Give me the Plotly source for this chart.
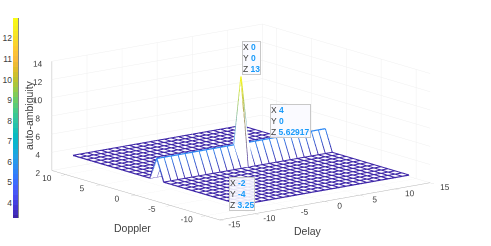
import plotly.graph_objects as go

delay = list(range(-12, 13))
doppler = list(range(-12, 13))
floor_level = 3.25
ridge_level = 5.62917
peak_level = 13
delay_ticks = [-15, -10, -5, 0, 5, 10, 15]
delay_labels = ["-15", "-10", "-5", "0", "5", "10", "15"]
doppler_ticks = [-10, -5, 0, 5, 10]
doppler_labels = ["-10", "-5", "0", "5", "10"]
height_ticks = [2, 4, 6, 8, 10, 12, 14]
colorbar_ticks = [4, 5, 6, 7, 8, 9, 10, 11, 12]
colorbar_levels = [3.25, 3.5, 3.75, 4, 4.25, 4.5, 4.75, 5, 5.25, 5.5, 5.75, 6, 6.25, 6.5, 6.75, 7, 7.25, 7.5, 7.75,
                   8, 8.25, 8.5, 8.75, 9, 9.25, 9.5, 9.75, 10, 10.25, 10.5, 10.75, 11, 11.25, 11.5, 11.75, 12,
                   12.25, 12.5, 12.75, 13]

parula = [
    (0.2422, 0.1504, 0.6603), (0.2706, 0.2147, 0.8364), (0.2813, 0.3006, 0.9414), (0.2699, 0.3892, 0.9906),
    (0.1963, 0.4847, 0.9892), (0.1687, 0.5703, 0.9359), (0.1248, 0.6459, 0.8883), (0.0297, 0.7082, 0.8163),
    (0.0433, 0.7411, 0.7394), (0.1717, 0.7670, 0.6554), (0.2470, 0.7918, 0.5567), (0.3909, 0.8029, 0.4354),
    (0.5616, 0.7942, 0.3045), (0.7242, 0.7698, 0.1910), (0.8634, 0.7406, 0.1596), (0.9728, 0.7298, 0.2394),
    (0.9952, 0.7893, 0.2028), (0.9676, 0.8639, 0.1643), (0.9628, 0.9373, 0.1265), (0.9769, 0.9839, 0.0805),
]
n = len(parula) - 1
colorscale = [[i / n, f"rgb({r*255:.0f},{g*255:.0f},{b*255:.0f})"] for i, (r, g, b) in enumerate(parula)]

FONT = "Liberation Sans, Arial, sans-serif"
TEXT = "#404040"
BLUE = "#1a9bfa"
W, H = 491, 246


def height(dl, dp):
    if dp != 0:
        return floor_level
    return peak_level if dl == 0 else ridge_level


Z = [[height(dl, dp) for dl in delay] for dp in doppler]

xs, ys, zs = [], [], []
for j, dp in enumerate(doppler):
    xs += delay + [None]
    ys += [dp] * len(delay) + [None]
    zs += Z[j] + [None]
for i, dl in enumerate(delay):
    xs += [dl] * len(doppler) + [None]
    ys += doppler + [None]
    zs += [Z[j][i] for j in range(len(doppler))] + [None]
line_colors = [v if v is not None else floor_level for v in zs]

fig = go.Figure()
fig.add_trace(go.Surface(
    x=delay, y=doppler, z=[[v - 0.04 for v in row] for row in Z],
    colorscale=[[0, "white"], [1, "white"]], showscale=False, hoverinfo="skip",
    lighting=dict(ambient=1, diffuse=0, specular=0, fresnel=0),
))
fig.add_trace(go.Scatter3d(
    x=xs, y=ys, z=zs, mode="lines", hoverinfo="skip", showlegend=False,
    line=dict(width=2.5, color=line_colors, colorscale=colorscale, cmin=floor_level, cmax=peak_level),
))
fig.add_trace(go.Heatmap(
    x=[0], y=colorbar_levels, z=[[v] for v in colorbar_levels], colorscale=colorscale,
    zmin=floor_level, zmax=peak_level, showscale=False, hoverinfo="skip", xaxis="x", yaxis="y",
))

axis_common = dict(
    showbackground=False, showspikes=False, gridcolor="#efefef", gridwidth=1, zeroline=False,
    showline=True, linecolor="#b5b5b5", linewidth=1, tickcolor="#b5b5b5",
    tickangle=0, tickfont=dict(family=FONT, size=10, color=TEXT),
)
title_font = dict(family=FONT, size=10.5, color=TEXT)


def tip(x, y, z, label_z, xshift, yshift, xanchor="left", yanchor="bottom"):
    text = (f"X <span style='color:{BLUE}'><b>{x}</b></span><br>"
            f"Y <span style='color:{BLUE}'><b>{y}</b></span><br>"
            f"Z <span style='color:{BLUE}'><b>{label_z}</b></span>")
    return dict(x=x, y=y, z=z, text=text, showarrow=False, align="left", xanchor=xanchor, yanchor=yanchor,
                xshift=xshift, yshift=yshift, bgcolor="rgba(250,250,255,0.9)", bordercolor="#c8c8c8",
                borderwidth=1, borderpad=0, font=dict(family=FONT, size=8.5, color=TEXT))


def axis_title(text, px, py, angle=0):
    return dict(text=text, xref="paper", yref="paper", x=px / W, y=1 - py / H, showarrow=False,
                xanchor="center", yanchor="middle", textangle=angle, font=title_font)


fig.update_layout(
    width=W, height=H, margin=dict(l=0, r=0, t=0, b=0, autoexpand=False), paper_bgcolor="white", plot_bgcolor="white",
    showlegend=False,
    xaxis=dict(domain=[13 / W, 18.5 / W], visible=False, range=[-0.5, 0.5], automargin=False),
    yaxis=dict(domain=[1 - 218 / H, 1 - 18 / H], range=[floor_level, peak_level], tickvals=colorbar_ticks,
               ticks="", showline=False, showgrid=False, zeroline=False, automargin=False,
               tickfont=dict(family=FONT, size=8.5, color=TEXT), anchor="x"),
    annotations=[
        axis_title("Doppler", 132, 228),
        axis_title("Delay", 308, 231),
        axis_title("auto-ambiguity", 29, 115, -90),
    ],
    scene=dict(
        domain=dict(x=[0.0183, 0.9627], y=[0.058, 0.952]),
        xaxis=dict(title=dict(text=""), range=[-15, 15], tickvals=delay_ticks, ticks="outside", ticklen=6,
                   ticktext=delay_labels, **axis_common),
        yaxis=dict(title=dict(text=""), range=[-12, 12], tickvals=doppler_ticks, ticks="outside", ticklen=6,
                   ticktext=doppler_labels, **axis_common),
        zaxis=dict(title=dict(text=""), range=[2, 14], tickvals=height_ticks, ticks="", **axis_common),
        aspectmode="manual", aspectratio=dict(x=2.42, y=2.49, z=1.02),
        camera=dict(projection=dict(type="orthographic"), eye=dict(x=-1.2, y=-1.55, z=0.46),
                    center=dict(x=0, y=0, z=0), up=dict(x=0, y=0, z=1)),
        annotations=[
            tip(0, 0, peak_level, 13, 1, 1),
            tip(4, 0, ridge_level, "5.62917", 1, 0),
            tip(-2, -4, floor_level, "3.25", 0, -1, "right", "top"),
        ],
    ),
)
fig.add_shape(type="line", xref="x domain", yref="y domain", x0=1, x1=1, y0=0, y1=1,
              line=dict(color="#8a8a8a", width=1))

fig.write_html("out.html", config={"displayModeBar": False},
               post_script="document.body.style.margin='0';document.body.style.overflow='hidden';")
